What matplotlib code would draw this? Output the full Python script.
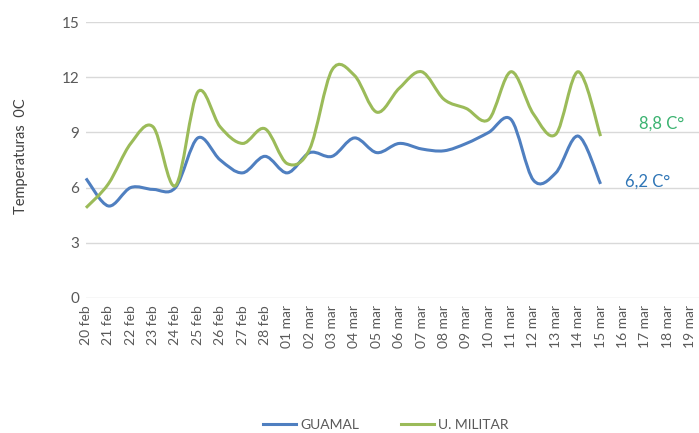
import numpy as np
import matplotlib.pyplot as plt
from matplotlib.path import Path
from matplotlib.patches import PathPatch
from matplotlib.lines import Line2D

plt.rcParams['font.family'] = ['Lato', 'DejaVu Sans']

# Datos
fechas = ['20 feb', '21 feb', '22 feb', '23 feb', '24 feb', '25 feb', '26 feb',
          '27 feb', '28 feb', '01 mar', '02 mar', '03 mar', '04 mar', '05 mar',
          '06 mar', '07 mar', '08 mar', '09 mar', '10 mar', '11 mar', '12 mar',
          '13 mar', '14 mar', '15 mar', '16 mar', '17 mar', '18 mar', '19 mar']
guamal = [6.5, 5.0, 6.0, 5.9, 6.0, 8.7, 7.5, 6.8, 7.7, 6.8, 7.9, 7.7, 8.7, 7.9,
          8.4, 8.1, 8.0, 8.4, 9.0, 9.7, 6.4, 6.8, 8.8, 6.2]
militar = [4.9, 6.2, 8.4, 9.3, 6.1, 11.2, 9.3, 8.4, 9.2, 7.3, 8.1, 12.4, 12.1, 10.1,
           11.4, 12.3, 10.8, 10.3, 9.7, 12.3, 10.0, 8.9, 12.3, 8.8]

color_guamal = '#4f7fc0'
color_militar = '#9bbb59'


def curva_suave(x, y):
    # Bezier cubico estilo Excel (linea suavizada)
    verts = [(x[0], y[0])]
    codes = [Path.MOVETO]
    n = len(x)
    for i in range(n - 1):
        x0, y0 = (x[i - 1], y[i - 1]) if i > 0 else (x[i], y[i])
        x3, y3 = (x[i + 2], y[i + 2]) if i + 2 < n else (x[i + 1], y[i + 1])
        c1 = (x[i] + (x[i + 1] - x0) / 6, y[i] + (y[i + 1] - y0) / 6)
        c2 = (x[i + 1] - (x3 - x[i]) / 6, y[i + 1] - (y3 - y[i]) / 6)
        verts += [c1, c2, (x[i + 1], y[i + 1])]
        codes += [Path.CURVE4] * 3
    return Path(verts, codes)


fig = plt.figure(figsize=(6.99, 4.33), dpi=100)
ax = fig.add_axes([0.123, 0.312, 0.877, 0.637])

xs = np.arange(len(guamal))
for serie, color in [(guamal, color_guamal), (militar, color_militar)]:
    p = PathPatch(curva_suave(xs, serie), facecolor='none', edgecolor=color,
                  lw=2.2, capstyle='butt', zorder=3, clip_on=False)
    ax.add_patch(p)

ax.set_xlim(0, 27.4)
ax.set_ylim(0, 15)
ax.set_yticks([0, 3, 6, 9, 12, 15])
ax.set_xticks(np.arange(len(fechas)))
ax.set_xticklabels(fechas, rotation=90, fontsize=10, color='#595959')
ax.tick_params(axis='y', labelsize=11, colors='#595959', length=0, pad=5)
ax.tick_params(axis='x', length=0, pad=5)
ax.grid(axis='y', color='#d9d9d9', lw=1)
ax.set_axisbelow(True)
for s in ax.spines.values():
    s.set_visible(False)

fig.text(0.03, 0.64, 'Temperaturas  0C', rotation=90, ha='center', va='center',
         fontsize=10.5, color='#404040')

ax.text(24.7, 9.5, '8,8 C°', color='#3cb371', fontsize=12, va='center')
ax.text(24.1, 6.3, '6,2 C°', color='#2e75b6', fontsize=12, va='center')

handles = [Line2D([], [], color=color_guamal, lw=2.2),
           Line2D([], [], color=color_militar, lw=2.2)]
fig.legend(handles, ['GUAMAL', 'U. MILITAR'], loc='center', bbox_to_anchor=(0.552, 0.018),
           ncol=2, frameon=False, fontsize=10, handlelength=2.4, handletextpad=0.3,
           columnspacing=3.0, labelcolor='#595959')

fig.savefig('out.png', dpi=100)
